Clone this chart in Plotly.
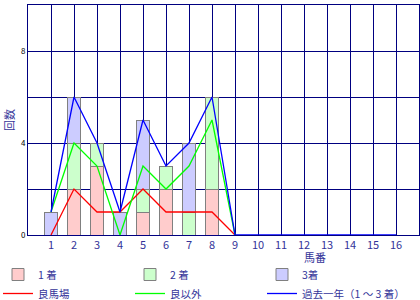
import plotly.graph_objects as go

horses = list(range(1, 17))
first = [0, 2, 3, 0, 1, 2, 0, 2, 0, 0, 0, 0, 0, 0, 0, 0]
second = [0, 2, 1, 0, 1, 1, 1, 4, 0, 0, 0, 0, 0, 0, 0, 0]
third = [1, 2, 0, 1, 3, 0, 3, 0, 0, 0, 0, 0, 0, 0, 0, 0]
good = [0, 2, 1, 1, 2, 1, 1, 1, 0]
other = [1, 4, 3, 0, 3, 2, 3, 5, 0]
year = [1, 6, 4, 1, 5, 3, 4, 6, 0, 0, 0, 0, 0, 0, 0, 0]

navy = "#000080"
txt = "#333399"
font = "Noto Sans CJK JP"

fig = go.Figure()
bar_specs = [("1 着", first, "#FFCCCC", "legend"), ("2 着", second, "#CCFFCC", "legend2"),
             ("3着", third, "#CCCCFF", "legend3")]
for name, vals, col, lg in bar_specs:
    fig.add_bar(x=horses, y=vals, name=name, width=0.6, legend=lg,
                marker=dict(color=col, line=dict(color="#808080", width=1)))

fig.add_scatter(x=horses[:len(good)], y=good, mode="lines", name="良馬場", legend="legend",
                line=dict(color="#FF0000", width=1.3))
fig.add_scatter(x=horses[:len(other)], y=other, mode="lines", name="良以外", legend="legend2",
                line=dict(color="#00FF00", width=1.3))
fig.add_scatter(x=horses, y=year, mode="lines", name="過去一年（1 ～ 3 着）", legend="legend3",
                line=dict(color="#0000FF", width=1.3))

def leg(px):
    return dict(orientation="v", traceorder="normal", x=(px - 28) / 391, xanchor="left",
                y=-25 / 230, yanchor="top", font=dict(size=10.5, color=txt),
                tracegroupgap=0, itemwidth=30, bgcolor="rgba(0,0,0,0)")

fig.update_layout(
    width=420, height=300, barmode="stack",
    margin=dict(l=28, r=1, t=5, b=65, autoexpand=False),
    plot_bgcolor="white", paper_bgcolor="white",
    font=dict(family=font, size=11, color=txt),
    xaxis=dict(range=[0, 17], tickvals=horses, showgrid=True, gridcolor=navy, gridwidth=1,
               showline=True, linecolor=navy, mirror=True, ticks="", zeroline=False,
               tickfont=dict(size=11, color=txt), automargin=False),
    yaxis=dict(range=[0, 10], tickvals=[0, 2, 4, 6, 8, 10], ticktext=["0", "", "4", "", "8", ""],
               showgrid=True, gridcolor=navy, gridwidth=1, showline=True, linecolor=navy,
               mirror=True, ticks="", zeroline=False, tickfont=dict(size=8, color="black"),
               automargin=False),
    legend=leg(-2), legend2=leg(130), legend3=leg(262),
    annotations=[
        dict(text="回数", xref="paper", yref="paper", x=0, y=0.5, xshift=-19, xanchor="center",
             yanchor="middle", textangle=-90, showarrow=False, font=dict(size=11, color=txt)),
        dict(text="馬番", xref="paper", yref="paper", x=0.734, y=0, yshift=-22, xanchor="center",
             yanchor="middle", showarrow=False, font=dict(size=11, color=txt)),
    ],
)

fig.write_html("out.html")
